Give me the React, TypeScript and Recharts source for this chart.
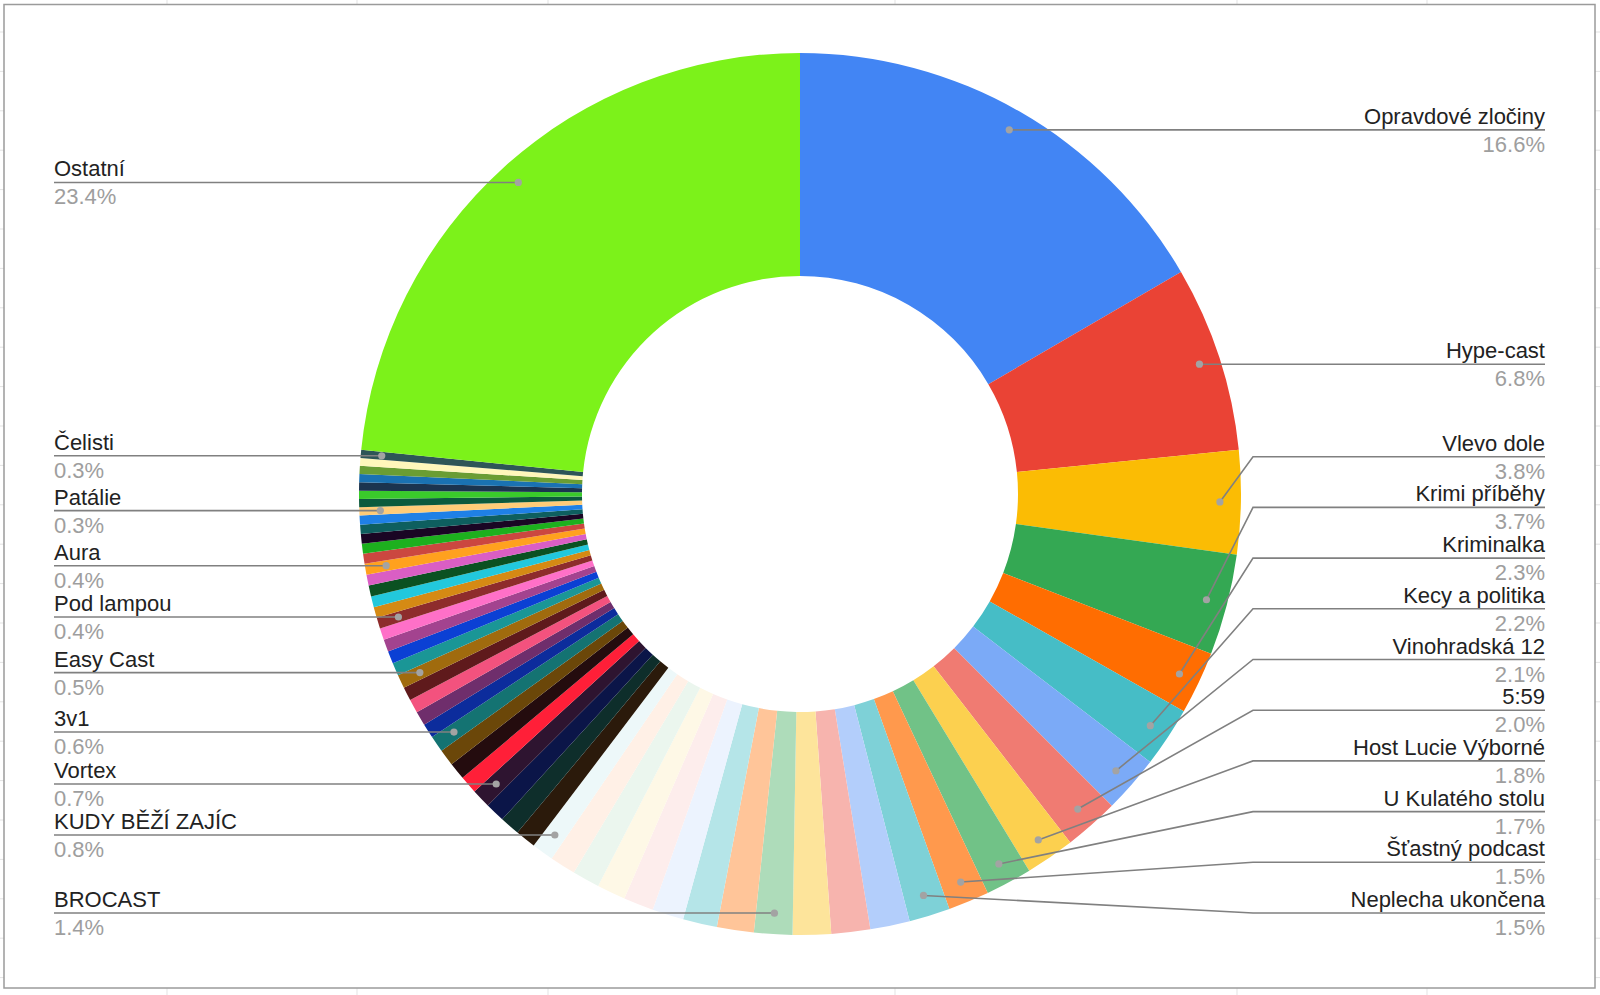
import { PieChart, Pie, Cell } from 'recharts'

// podcast share, clockwise from 12 o'clock (Sheets order, "Ostatní" last)
const NAMES = [
  'Opravdové zločiny', 'Hype-cast', 'Vlevo dole', 'Krimi příběhy', 'Kriminalka', 'Kecy a politika',
  'Vinohradská 12', '5:59', 'Host Lucie Výborné', 'U Kulatého stolu', 'Šťastný podcast', 'Neplecha ukončena',
  '', '', '', 'BROCAST',
  '', '', '', '', '', '', '', 'KUDY BĚŽÍ ZAJÍC',
  '', '', '', 'Vortex',
  '', '', '', '3v1',
  '', '', '', '', 'Easy Cast',
  '', '', '', '', 'Pod lampou',
  '', '', '', '', 'Aura',
  '', '', '', '', '', 'Patálie',
  '', '', '', '', '', '', 'Čelisti',
  'Ostatní',
]

const VALUES = [
  16.6, 6.8, 3.8, 3.7, 2.3, 2.2, 2.1, 2.0, 1.8, 1.7, 1.5, 1.5,
  1.45, 1.42, 1.4, 1.4,
  1.35, 1.25, 1.15, 1.1, 1.05, 1.0, 0.95, 0.8,
  0.75, 0.73, 0.72, 0.7,
  0.65, 0.63, 0.61, 0.6,
  0.53, 0.52, 0.5, 0.5, 0.5,
  0.47, 0.46, 0.45, 0.43, 0.4,
  0.4, 0.4, 0.4, 0.4, 0.4,
  0.37, 0.36, 0.35, 0.34, 0.33, 0.3,
  0.3, 0.3, 0.3, 0.3, 0.3, 0.28, 0.3,
  23.4,
]

const COLORS = [
  '#4285F4', '#EA4335', '#FBBC04', '#34A853', '#FF6D01', '#46BDC6',
  '#7BAAF7', '#F07B72', '#FCD04F', '#71C287', '#FF994D', '#7ED1D7',
  '#B3CEFB', '#F7B4AE', '#FDE49B', '#AEDCBA', '#FFC599', '#B5E5E8',
  '#ECF3FE', '#FDEDEC', '#FEF8E6', '#EBF6EE', '#FFF0E6', '#EDF8F9',
  '#2B1A0B', '#0E2E2B', '#0B1548', '#2E1430', '#FF1F38', '#240C0E',
  '#6B4709', '#147372', '#0C2C9C', '#6F2E6C', '#F3527E', '#5F1A1C',
  '#A06B0E', '#1A9696', '#0B40D4', '#A3438F', '#FF70C8', '#8E2C2C',
  '#D58A14', '#22C8DC', '#0B5122', '#DA5EC4', '#FFA11E', '#CB4740',
  '#1DB01E', '#1A0624', '#0E5F5F', '#1F80E6', '#FFCC78', '#0C5A3D',
  '#3ACB2B', '#1B344F', '#1A72B2', '#6A9D34', '#FFF7BB', '#2E5657',
  '#7CF21A',
]

const W = 1600
const H = 995
const CX = 800
const CY = 494
const INNER_R = 218
const OUTER_R = 441
const DOT_R = 420
const LABEL_GAP = 50.7
const LABEL_MAX_Y = 913
const RIGHT_X = 1545
const LEFT_X = 54
const RAD = Math.PI / 180
const FONT = 'Arial, "Liberation Sans", sans-serif'

const data = VALUES.map((value, i) => ({ name: NAMES[i], value }))

// label line y positions: start at the slice's anchor, then push apart (Sheets style)
const labelY: Record<number, number> = (() => {
  const total = VALUES.reduce((a, b) => a + b, 0)
  let cum = 0
  const right: { i: number; y: number }[] = []
  const left: { i: number; y: number }[] = []
  VALUES.forEach((v, i) => {
    const mid = 90 - ((cum + v / 2) / total) * 360
    cum += v
    if (!NAMES[i]) return
    const x = CX + DOT_R * Math.cos(mid * RAD)
    const y = CY - DOT_R * Math.sin(mid * RAD)
    ;(x >= CX ? right : left).push({ i, y })
  })
  const out: Record<number, number> = {}
  for (const side of [right, left]) {
    side.sort((a, b) => a.y - b.y)
    const ys = side.map(s => s.y)
    for (let k = 1; k < ys.length; k++) ys[k] = Math.max(ys[k], ys[k - 1] + LABEL_GAP)
    for (let k = ys.length - 1; k >= 0; k--) {
      ys[k] = k === ys.length - 1 ? Math.min(ys[k], LABEL_MAX_Y) : Math.min(ys[k], ys[k + 1] - LABEL_GAP)
    }
    side.forEach((s, k) => { out[s.i] = ys[k] })
  }
  return out
})()

const renderLabel = (props: any) => {
  const { index, midAngle, percent } = props
  const name = NAMES[index]
  if (!name) return null
  const cx = Number(props.cx ?? CX)
  const cy = Number(props.cy ?? CY)
  const dx = cx + DOT_R * Math.cos(midAngle * RAD)
  const dy = cy - DOT_R * Math.sin(midAngle * RAD)
  const ly = labelY[index]
  const isRight = dx >= cx
  const edge = isRight ? RIGHT_X : LEFT_X
  const bendX = isRight ? cx + OUTER_R + 12 : cx - OUTER_R - 12
  const path = Math.abs(ly - dy) < 1
    ? `M${dx},${ly} H${edge}`
    : `M${dx},${dy} L${bendX},${ly} H${edge}`
  const anchor = isRight ? 'end' : 'start'
  return (
    <g key={`lbl-${index}`}>
      <path d={path} stroke="#808080" strokeWidth={1.6} fill="none" />
      <circle cx={dx} cy={dy} r={3.6} fill="#a3a3a3" />
      <text x={edge} y={ly - 6} textAnchor={anchor} fontSize={22} fontFamily={FONT} fill="#222222">
        {name}
      </text>
      <text x={edge} y={ly + 22} textAnchor={anchor} fontSize={22} fontFamily={FONT} fill="#9e9e9e">
        {`${(percent * 100).toFixed(1)}%`}
      </text>
    </g>
  )
}

const ROW_LINES = Array.from({ length: 25 }, (_, k) => 32 + 39.4 * k)
const COL_LINES = [167, 357, 548, 895, 1237, 1427]

export default function App() {
  return (
    <div style={{ position: 'absolute', left: 0, top: 0, width: W, height: H, background: '#fff' }}>
      <svg width={W} height={H} style={{ position: 'absolute', left: 0, top: 0 }}>
        {ROW_LINES.map(y => (
          <line key={`r${y}`} x1={0} x2={W} y1={y} y2={y} stroke="#e3e3e3" strokeWidth={1} />
        ))}
        {COL_LINES.map(x => (
          <line key={`c${x}`} x1={x} x2={x} y1={0} y2={H} stroke="#e3e3e3" strokeWidth={1} />
        ))}
        <rect x={4} y={4.5} width={1591} height={983.5} fill="#fff" stroke="#9b9b9b" strokeWidth={1.5} />
      </svg>
      <div style={{ position: 'absolute', left: 0, top: 0 }}>
        <PieChart width={W} height={H} margin={{ top: 0, right: 0, bottom: 0, left: 0 }}>
          <Pie
            data={data}
            dataKey="value"
            nameKey="name"
            cx={CX}
            cy={CY}
            innerRadius={INNER_R}
            outerRadius={OUTER_R}
            startAngle={90}
            endAngle={-270}
            stroke="none"
            label={renderLabel}
            labelLine={false}
            isAnimationActive={false}
          >
            {data.map((d, i) => (
              <Cell key={`cell-${i}`} fill={COLORS[i]} />
            ))}
          </Pie>
        </PieChart>
      </div>
    </div>
  )
}
